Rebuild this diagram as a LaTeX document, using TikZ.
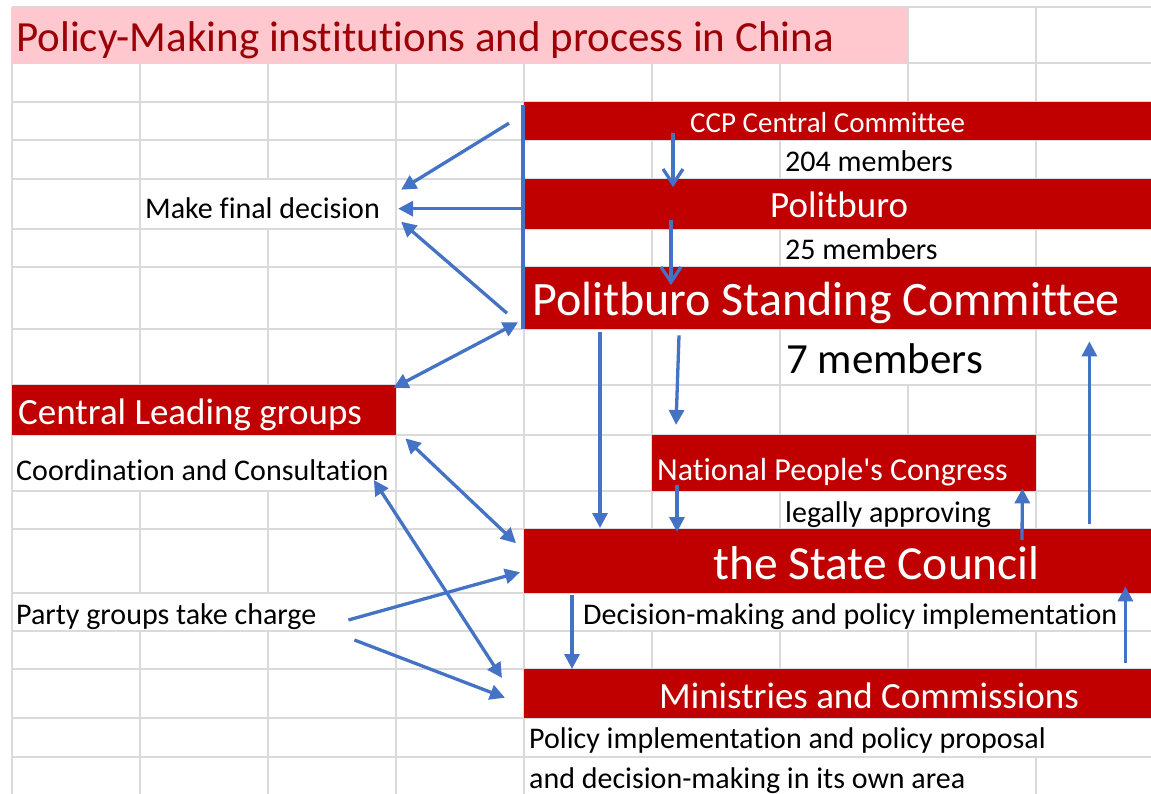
\documentclass[tikz,border=0pt]{standalone}
\usepackage{fontspec}
\setmainfont{Carlito}[Ligatures={TeX,NoCommon}]
\usepackage{tikz}
\usetikzlibrary{arrows.meta, calc}

\definecolor{xlred}{HTML}{C00000}
\definecolor{xlpink}{HTML}{FFC7CE}
\definecolor{xldark}{HTML}{9C0006}
\definecolor{xlblue}{HTML}{4472C4}
\definecolor{xlgrid}{HTML}{DADADA}

\begin{document}
\begin{tikzpicture}[
    x=1pt, y=-1pt,
    >={Triangle[length=15pt, width=15pt]},
    box/.style={fill=xlred, inner sep=0pt, anchor=north west},
    txt/.style={inner sep=0pt, anchor=base west, font=\fontsize{30}{36}\selectfont},
    wtxt/.style={txt, text=white},
    gridline/.style={xlgrid, line width=1.7pt},
    arrow/.style={xlblue, line width=3.3pt, ->},
    both/.style={xlblue, line width=3.3pt, <->},
    vee/.style={xlblue, line width=3.3pt, -{Straight Barb[length=15pt, width=20pt]}}
]
\useasboundingbox (0,0) rectangle (1151,794);

% Sheet grid
\foreach \gx in {12,140,...,1036}
  \draw[gridline] (\gx,7) -- (\gx,794);
\foreach \gy in {7,63,102,140,179,229,267,329,385,435,491,529,593,631,669,718,757}
  \draw[gridline] (12,\gy) -- (1151,\gy);

% Cells where the text runs over the borders
\foreach \ax/\ay/\bx/\by in {781/141/1035/178, 141/180/395/228, 781/230/1035/266,
    781/330/1035/384, 13/436/395/490, 781/492/1035/528, 525/594/1151/630,
    13/594/395/630, 525/719/1151/756, 525/758/1035/794}
  \fill[white] (\ax,\ay) rectangle (\bx,\by);

% Nodes
\node[box, fill=xlpink, minimum width=896pt, minimum height=55pt] (head) at (12,8) {};
\node[txt, text=xldark, font=\fontsize{43}{52}\selectfont] (head-t) at (16,52) {Policy-Making institutions and process in China};

\node[box, minimum width=627pt, minimum height=38pt] (ccc) at (524,102) {};
\node[wtxt, font=\fontsize{29}{35}\selectfont] (ccc-t) at (690,133) {CCP Central Committee};
\node[txt] (ccc-n) at (785,172) {204 members};

\node[box, minimum width=627pt, minimum height=50pt] (pb) at (524,179) {};
\node[wtxt, font=\fontsize{37}{44}\selectfont] (pb-t) at (770,218) {Politburo};
\node[txt] (pb-n) at (785,260) {25 members};

\node[box, minimum width=627pt, minimum height=62pt] (psc) at (524,267) {};
\node[wtxt, font=\fontsize{48}{58}\selectfont] (psc-t) at (532,316) {Politburo Standing Committee};
\node[txt, font=\fontsize{43}{50}\selectfont] (psc-n) at (786,373) {7 members};

\node[txt] (decide) at (145,219) {Make final decision};

\node[box, minimum width=384pt, minimum height=50pt] (clg) at (12,385) {};
\node[wtxt, font=\fontsize{37}{44}\selectfont] (clg-t) at (18,424) {Central Leading groups};
\node[txt] (coord) at (16,480) {Coordination and Consultation};

\node[box, minimum width=384pt, minimum height=56pt] (npc) at (652,435) {};
\node[wtxt, font=\fontsize{32}{38}\selectfont] (npc-t) at (657,480) {National People\textquotesingle s Congress};
\node[txt] (legal) at (785,522) {legally approving};

\node[box, minimum width=627pt, minimum height=64pt] (sc) at (524,529) {};
\node[wtxt, font=\fontsize{47.5}{56}\selectfont] (sc-t) at (713,579) {the State Council};
\node[txt] (sc-n) at (583,624) {Decision-making and policy implementation};
\node[txt] (party) at (16,624) {Party groups take charge};

\node[box, minimum width=627pt, minimum height=49pt] (mc) at (524,669) {};
\node[wtxt, font=\fontsize{37}{44}\selectfont] (mc-t) at (659,708) {Ministries and Commissions};
\node[txt] (mc-n) at (529,748) {Policy implementation and policy proposal};
\node[txt] (mc-m) at (529,788) {and decision-making in its own area};

% Arrows
\coordinate (fd) at ($(decide.east)+(18,0)$);
\draw[xlblue, line width=3.3pt] ($(ccc.north west)+(-1,3)$) -- ($(psc.south west)+(-1,0)$);
\draw[arrow] ($(ccc.west)+(-15,2)$) -- ($(fd)+(3,-19)$);
\draw[arrow] (fd -| pb.west) -- (fd);
\draw[arrow] ($(psc.west)+(-17,15)$) -- ($(fd)+(3,13)$);

\draw[vee] ($(ccc.south west)+(149,-7)$) -- ($(pb.north west)+(149,8)$);
\draw[vee] ($(pb.south west)+(147,-9)$) -- ($(psc.north west)+(147,18)$);

\draw[both] ($(psc.south west)+(-6,-7)$) -- ($(clg.north east)+(-3,3)$);
\draw[both] ($(clg.south east)+(9,3)$) -- ($(sc.west)+(-8,-18)$);
\draw[both] ($(coord.base east)+(-15,0)$) -- ($(mc.north west)+(-22,9)$);
\draw[arrow] ($(party.base east)+(32,-4)$) -- ($(sc.west)+(-4,11)$);
\draw[arrow] ($(party.base east)+(38,16)$) -- ($(mc.west)+(-19,4)$);

\draw[arrow] ($(psc.south west)+(76,3)$) -- ($(sc.north west)+(76,-1)$);
\draw[arrow] ($(psc.south west)+(155,6)$) -- ($(npc.north west)+(24,-10)$);
\draw[arrow] ($(npc.south west)+(25,-6)$) -- ($(sc.north west)+(153,3)$);
\draw[arrow] ($(sc.north west)+(498,11)$) -- ($(npc.south east)+(-14,-3)$);
\draw[arrow] ($(sc.north east)+(-62,-5)$) -- ($(psc.south east)+(-62,12)$);
\draw[arrow] ($(sc.south west)+(48,2)$) -- ($(mc.north west)+(48,0)$);
\draw[arrow] ($(mc.north east)+(-26,-6)$) -- ($(sc.south east)+(-26,-7)$);

\end{tikzpicture}
\end{document}
